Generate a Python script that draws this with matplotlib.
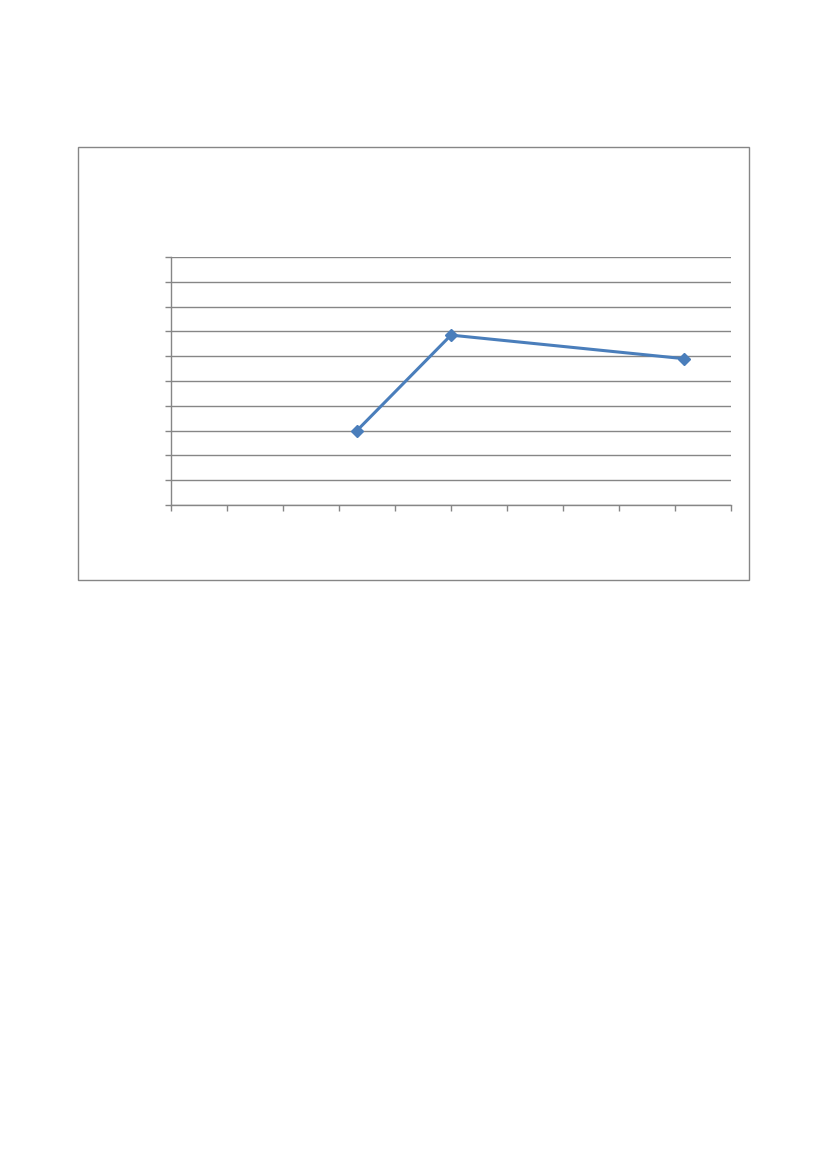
import matplotlib
matplotlib.use("Agg")
import matplotlib.pyplot as plt
from matplotlib.patches import Rectangle
import numpy as np

x_vals = [3.32, 5.0, 9.16]
y_vals = [3.0, 6.85, 5.9]

W, H = 827, 1169
grey = '#868686'
blue = '#4a7ebb'

fig = plt.figure(figsize=(W / 100, H / 100), dpi=100)

# chart frame
fig.patches.append(Rectangle((78 / W, 1 - 580 / H), (749 - 78) / W, (580 - 147) / H,
                             transform=fig.transFigure, fill=False, edgecolor=grey, linewidth=1))

ax = fig.add_axes([171 / W, 1 - 505 / H, (731 - 171) / W, (505 - 257) / H])
ax.plot(x_vals, y_vals, color=blue, linewidth=2.2, marker='D', markersize=6,
        markerfacecolor=blue, markeredgecolor=blue)
ax.set_xlim(0, 10)
ax.set_ylim(0, 10)
ax.set_xticks(np.arange(0, 11))
ax.set_yticks(np.arange(0, 11))
ax.set_xticklabels([])
ax.set_yticklabels([])
ax.yaxis.grid(True, color=grey, linewidth=1)
ax.set_axisbelow(True)
for side in ['top', 'right']:
    ax.spines[side].set_visible(False)
for side in ['left', 'bottom']:
    ax.spines[side].set_color(grey)
    ax.spines[side].set_linewidth(1)
ax.tick_params(direction='out', length=4, color=grey, width=1)

fig.savefig('out.png', dpi=100)
